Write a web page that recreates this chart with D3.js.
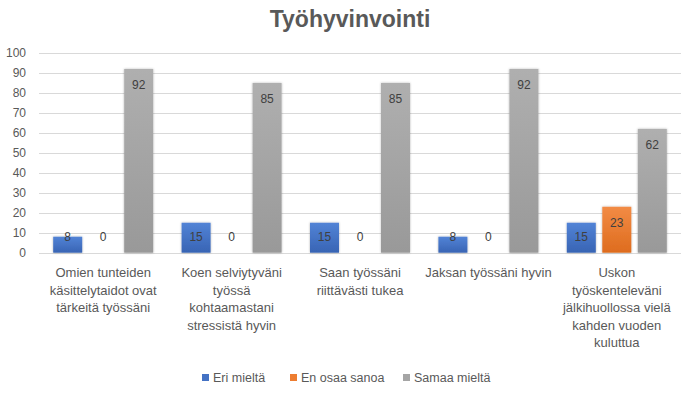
<!DOCTYPE html>
<html>
<head>
<meta charset="utf-8">
<script src="https://cdn.jsdelivr.net/npm/d3@7"></script>
<style>
  body { margin: 0; background: #fff; }
  text { font-family: "Liberation Sans", Arial, sans-serif; }
</style>
</head>
<body>
<svg id="svg" width="696" height="397"></svg>
<script>
// categories (line breaks as in the original axis labels)
const categories = [
  "Omien tunteiden\nkäsittelytaidot ovat\ntärkeitä työssäni",
  "Koen selviytyväni\ntyössä\nkohtaamastani\nstressistä hyvin",
  "Saan työssäni\nriittävästi tukea",
  "Jaksan työssäni hyvin",
  "Uskon\ntyöskenteleväni\njälkihuollossa vielä\nkahden vuoden\nkuluttua"
]
const seriesNames = ["Eri mieltä", "En osaa sanoa", "Samaa mieltä"]
const eriMielta = [8, 15, 15, 8, 15]
const enOsaa = [0, 0, 0, 0, 23]
const samaaMielta = [92, 85, 85, 92, 62]
const yTicks = [0, 10, 20, 30, 40, 50, 60, 70, 80, 90, 100]
const colors = ["#4472C4", "#ED7D31", "#A5A5A5"]
const colorsLight = ["#5283D6", "#F28B45", "#AFAFAF"]
const colorsDark = ["#3864B4", "#DE6C1E", "#999999"]

const values = [eriMielta, enOsaa, samaaMielta]

var margin = {top: 53, right: 15, bottom: 145, left: 39}
var width = 696
var height = 397

var svg = d3.select("#svg")

var defs = svg.append("defs")
colors.forEach((c, i) => {
  var g = defs.append("linearGradient")
    .attr("id", "grad" + i)
    .attr("x1", 0).attr("y1", 0).attr("x2", 0).attr("y2", 1)
  g.append("stop").attr("offset", "0%").attr("stop-color", colorsLight[i])
  g.append("stop").attr("offset", "100%").attr("stop-color", colorsDark[i])
})
var f = defs.append("filter").attr("id", "shadow")
  .attr("x", "-20%").attr("y", "-10%").attr("width", "140%").attr("height", "120%")
f.append("feDropShadow").attr("dx", 0).attr("dy", 0).attr("stdDeviation", 1.2)
  .attr("flood-color", "#000").attr("flood-opacity", 0.3)

var x0 = d3.scaleBand()
  .domain(d3.range(categories.length))
  .range([margin.left, width - margin.right])
  .padding(0)

var x1 = d3.scaleBand()
  .domain(d3.range(seriesNames.length))
  .range([0, x0.bandwidth()])
  .paddingInner(0.183)
  .paddingOuter(0.4)

var y = d3.scaleLinear()
  .domain([0, 100])
  .range([252.7, 53])

// gridlines
svg.append("g")
  .selectAll("line")
  .data(yTicks)
  .join("line")
    .attr("x1", margin.left)
    .attr("x2", width - margin.right)
    .attr("y1", d => Math.round(y(d)) + 0.5)
    .attr("y2", d => Math.round(y(d)) + 0.5)
    .attr("stroke", "#D9D9D9")
    .attr("stroke-width", 1)

// y axis labels
var yAxis = g => g
  .attr("transform", `translate(${margin.left},0)`)
  .call(d3.axisLeft(y).tickValues(yTicks).tickSize(0).tickPadding(13))
  .call(g => g.select(".domain").remove())
  .call(g => g.selectAll("text")
    .attr("fill", "#595959")
    .style("font-size", "12px"))
svg.append("g").call(yAxis)

// bars
var groups = svg.append("g")
  .selectAll("g")
  .data(categories.map((c, ci) => values.map((v, si) => ({ci, si, v: v[ci]}))))
  .join("g")
    .attr("transform", (d, i) => `translate(${x0(i)},0)`)

groups.selectAll("rect")
  .data(d => d.filter(e => e.v > 0))
  .join("rect")
    .attr("x", d => x1(d.si))
    .attr("y", d => y(d.v))
    .attr("width", x1.bandwidth())
    .attr("height", d => y(0) - y(d.v))
    .attr("fill", d => `url(#grad${d.si})`)
    .attr("filter", "url(#shadow)")

groups.selectAll("text")
  .data(d => d)
  .join("text")
    .attr("x", d => x1(d.si) + x1.bandwidth() / 2)
    .attr("y", d => Math.min(y(d.v) + 16, y(0) - 16))
    .attr("dy", "0.35em")
    .attr("text-anchor", "middle")
    .attr("fill", "#404040")
    .style("font-size", "12px")
    .text(d => d.v)

// x category labels
svg.append("g")
  .selectAll("text")
  .data(categories)
  .join("text")
    .attr("text-anchor", "middle")
    .attr("fill", "#595959")
    .style("font-size", "13px")
    .attr("transform", (d, i) => `translate(${x0(i) + x0.bandwidth() / 2},277)`)
  .selectAll("tspan")
  .data(d => d.split("\n"))
  .join("tspan")
    .attr("x", 0)
    .attr("y", (d, i) => i * 17.5)
    .text(d => d)

// title
svg.append("text")
  .attr("x", 350)
  .attr("y", 27)
  .attr("text-anchor", "middle")
  .attr("fill", "#595959")
  .style("font-size", "23px")
  .style("font-weight", "bold")
  .text("Työhyvinvointi")

// legend
var legendX = [202, 290, 403]
var legend = svg.append("g")
  .selectAll("g")
  .data(seriesNames)
  .join("g")
    .attr("transform", (d, i) => `translate(${legendX[i]},378)`)
legend.append("rect")
  .attr("x", 0).attr("y", -4)
  .attr("width", 7).attr("height", 7)
  .attr("fill", (d, i) => colors[i])
legend.append("text")
  .attr("x", 11)
  .attr("dy", "0.35em")
  .attr("fill", "#595959")
  .style("font-size", "12.5px")
  .text(d => d)
</script>
</body>
</html>
